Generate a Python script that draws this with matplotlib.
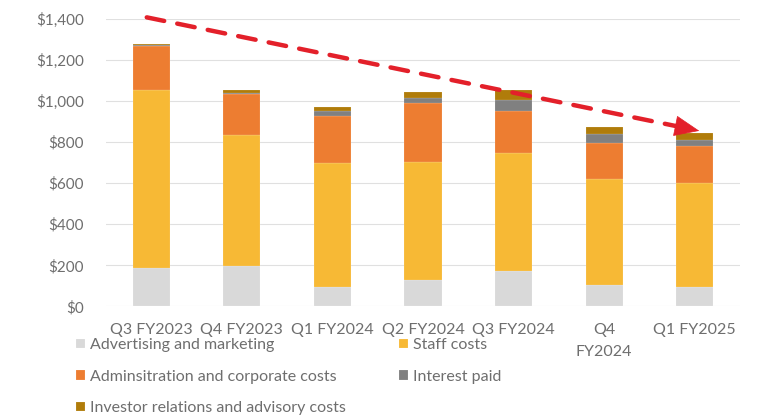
import matplotlib
matplotlib.use("Agg")
import matplotlib.pyplot as plt
import numpy as np

categories = ["Q3 FY2023", "Q4 FY2023", "Q1 FY2024", "Q2 FY2024", "Q3 FY2024", "Q4\nFY2024", "Q1 FY2025"]
advertising = [185, 197, 94, 130, 174, 102, 94]
staff = [870, 638, 602, 574, 574, 518, 506]
admin = [215, 199, 229, 286, 206, 178, 179]
interest = [2, 6, 26, 25, 52, 41, 29]
investor = [8, 14, 18, 29, 49, 34, 36]
yticks = [0, 200, 400, 600, 800, 1000, 1200, 1400]
ytick_labels = ["$0", "$200", "$400", "$600", "$800", "$1,000", "$1,200", "$1,400"]
trend_start = (-0.05, 1408)
trend_end = (6.05, 855)

series = [
    ("Advertising and marketing", advertising, "#D9D9D9"),
    ("Staff costs", staff, "#F7B935"),
    ("Adminsitration and corporate costs", admin, "#ED7D31"),
    ("Interest paid", interest, "#808080"),
    ("Investor relations and advisory costs", investor, "#B07C0A"),
]

plt.rcParams['font.family'] = ['Lato', 'DejaVu Sans']
txt = "#6E6E6E"

fig = plt.figure(figsize=(7.62, 4.18), dpi=100)
ax = fig.add_axes([106/762, (418-306.3)/418, (740-106)/762, (306.3-19)/418])

x = np.arange(len(categories))
bottom = np.zeros(len(categories))
handles = {}
for name, vals, col in series:
    b = ax.bar(x, vals, 0.41, bottom=bottom, color=col, edgecolor=(1, 1, 1, 0.35),
               linewidth=0.3, label=name, zorder=3)
    handles[name] = b
    bottom += np.array(vals)

ax.set_xlim(-0.5, len(categories) - 0.5)
ax.set_ylim(0, 1400)
ax.set_yticks(yticks)
ax.set_yticklabels(ytick_labels, color=txt, fontsize=11)
ax.set_xticks(x)
ax.set_xticklabels(categories, color=txt, fontsize=11.5, linespacing=1.75)
ax.tick_params(axis="both", length=0)
ax.tick_params(axis="y", pad=16)
ax.tick_params(axis="x", pad=12)
for s in ax.spines.values():
    s.set_visible(False)
ax.grid(axis="y", color="#E0E0E0", linewidth=0.8, zorder=0)
ax.set_axisbelow(True)

# dashed trend arrow
red = "#E3202A"
ax.annotate("", xy=trend_end, xytext=trend_start,
            arrowprops=dict(arrowstyle="-", color=red, lw=3.2,
                            linestyle=(0, (4, 3)), shrinkA=0, shrinkB=14),
            annotation_clip=False, zorder=5)
f = 0.96
head_base = (trend_start[0] + f * (trend_end[0] - trend_start[0]),
             trend_start[1] + f * (trend_end[1] - trend_start[1]))
ax.annotate("", xy=trend_end, xytext=head_base,
            arrowprops=dict(arrowstyle="-|>,head_length=1.2,head_width=0.5", color=red,
                            lw=0.5, shrinkA=0, shrinkB=0, mutation_scale=14),
            annotation_clip=False, zorder=5)

order = ["Advertising and marketing", "Adminsitration and corporate costs",
         "Investor relations and advisory costs", "Staff costs", "Interest paid"]
leg = fig.legend([handles[n] for n in order], order, loc="upper left",
                 bbox_to_anchor=(76/762, 1 - 338/418), ncol=2, frameon=False,
                 fontsize=11.5, handlelength=0.55, handleheight=0.55,
                 handletextpad=0.35, labelspacing=1.1, columnspacing=3.3,
                 borderaxespad=0, borderpad=0)
for t in leg.get_texts():
    t.set_color(txt)

fig.savefig("out.png", dpi=100)
